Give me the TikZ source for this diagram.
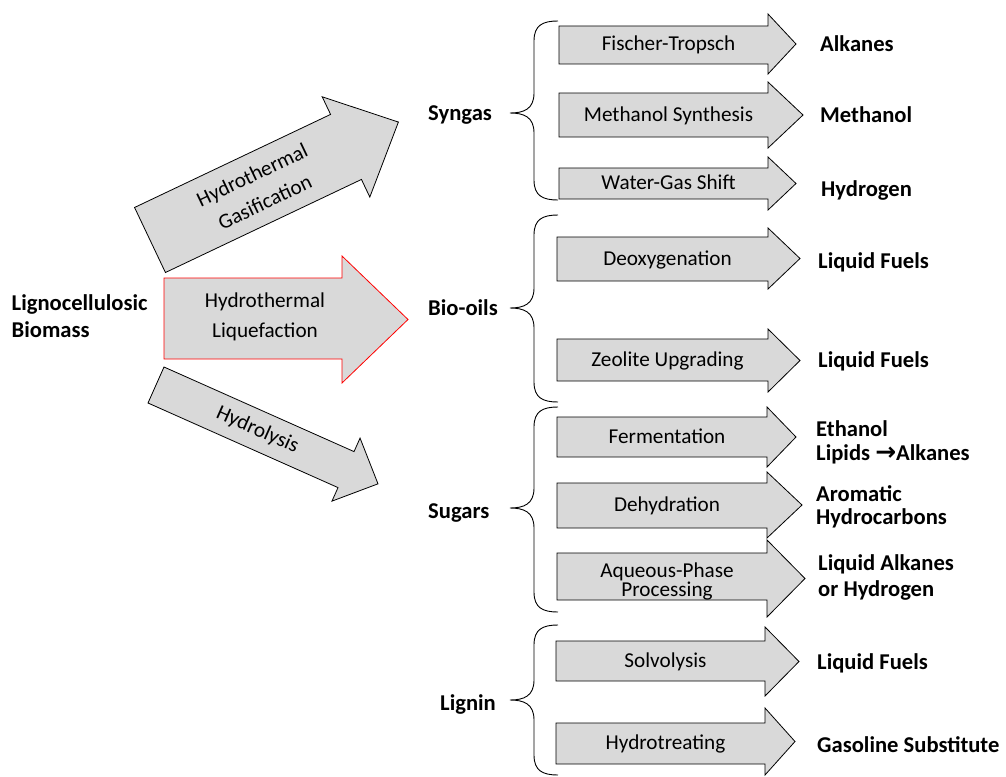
\documentclass[tikz,border=0pt]{standalone}
\usepackage{fontspec}
\setmainfont{Carlito}
\newfontfamily\arrowfont{DejaVu Sans}
\definecolor{arrowgray}{HTML}{D9D9D9}
\definecolor{htlred}{HTML}{FF0000}
\tikzset{
  blockarrow/.style={draw=black, fill=arrowgray, line width=0.8pt, line join=miter},
  redarrow/.style={blockarrow, draw=htlred},
  proctext/.style={inner sep=0pt, font=\fontsize{21.2}{25}\selectfont, align=center},
  prodlabel/.style={inner sep=0pt, font=\bfseries\fontsize{22.6}{25}\selectfont, align=left, anchor=base west},
  bracepath/.style={draw=black, line width=0.9pt},
}
% name, x0, x head, x tip, shaft top, shaft bottom, head top, head bottom
\newcommand\rarrow[8]{%
  \draw[blockarrow] (#2,#5) -- (#3,#5) -- (#3,#7) -- (#4,{(#7+#8)/2}) -- (#3,#8) -- (#3,#6) -- (#2,#6) -- cycle;
  \coordinate (#1) at ({(#2+#3)/2+5},{(#5+#6)/2});
}
% top, bottom, tip
\newcommand\cbrace[3]{%
  \draw[bracepath] (558,#1) .. controls (543,#1) and (534,{#1+4}) .. (534,{#1+20})
    -- (534,{#3-20}) .. controls (534,{#3-4}) and (524,#3) .. (510,#3)
    .. controls (524,#3) and (534,{#3+4}) .. (534,{#3+20})
    -- (534,{#2-20}) .. controls (534,{#2-4}) and (543,#2) .. (558,#2);
}
\begin{document}
\begin{tikzpicture}[x=1pt,y=-1pt]
\useasboundingbox (0,0) rectangle (1006,776);

% ---- left: source (base = last line's baseline)
\node[prodlabel, font=\bfseries\fontsize{22.6}{26.6}\selectfont] (biomass) at (11.5,337.3) {Lignocellulosic\\Biomass};

% ---- three main arrows
\begin{scope}[shift={(150,240)}, rotate=25.4]
  \draw[blockarrow] (0,-36) -- (217,-36) -- (217,-55.5) -- (275,0) -- (217,55.5) -- (217,36) -- (0,36) -- cycle;
  \node[proctext, transform shape, font=\fontsize{21.2}{30}\selectfont] (htg) at (120,0) {Hydrothermal\\Gasification};
\end{scope}
\draw[redarrow] (164,278) -- (342,278) -- (342,256) -- (408,319.5) -- (342,383) -- (342,359) -- (164,359) -- cycle;
\node[proctext, font=\fontsize{21.2}{30}\selectfont] (htl) at (265,317) {Hydrothermal\\Liquefaction};
\begin{scope}[shift={(156,385)}, rotate=-24]
  \draw[blockarrow] (0,-19.7) -- (208,-19.7) -- (208,-34.5) -- (243,0) -- (208,34.5) -- (208,19.7) -- (0,19.7) -- cycle;
  \node[proctext, transform shape] (hyd) at (111,0) {Hydrolysis};
\end{scope}

% ---- intermediates
\node[prodlabel] (syngas) at (428,120.5) {Syngas};
\node[prodlabel] (biooils) at (428,315) {Bio-oils};
\node[prodlabel] (sugars) at (428,518) {Sugars};
\node[prodlabel] (lignin) at (440,710) {Lignin};

% ---- braces
\cbrace{21}{200}{113}
\cbrace{215}{402}{308}
\cbrace{407}{612}{508}
\cbrace{625}{775}{700}

% ---- process arrows
\rarrow{ftA}{559}{768}{796}{26}{64}{14}{74}
\node[proctext, anchor=base] (ft) at ([yshift=-6pt]ftA) {Fischer-Tropsch};
\rarrow{msA}{559}{768}{803}{93}{137}{82}{148}
\node[proctext, anchor=base] (ms) at ([yshift=-6pt]msA) {Methanol Synthesis};
\rarrow{wgA}{559}{768}{796}{168}{199}{157}{210}
\node[proctext, anchor=base] (wg) at ([yshift=-6pt]wgA) {Water-Gas Shift};
\rarrow{deA}{557}{768}{800}{237}{281}{228}{289}
\node[proctext, anchor=base] (de) at ([yshift=-6pt]deA) {Deoxygenation};
\rarrow{zeA}{557}{768}{800}{339}{381}{329}{392}
\node[proctext, anchor=base] (ze) at ([yshift=-6pt]zeA) {Zeolite Upgrading};
\rarrow{feA}{557}{767}{796}{417}{457}{407}{467}
\node[proctext, anchor=base] (fe) at ([yshift=-6pt]feA) {Fermentation};
\rarrow{dhA}{557}{767}{802}{483}{528}{472}{538}
\node[proctext, anchor=base] (dh) at ([yshift=-6pt]dhA) {Dehydration};
\rarrow{apA}{557}{767}{805}{553}{600}{540}{617}
\node[proctext, anchor=base, font=\fontsize{21.2}{19.4}\selectfont] (ap) at ([yshift=-20.2pt]apA) {Aqueous-Phase\\Processing};
\rarrow{svA}{556}{765}{799}{641}{681}{627}{696}
\node[proctext, anchor=base] (sv) at ([yshift=-6pt]svA) {Solvolysis};
\rarrow{htA}{556}{765}{795}{723}{764}{708}{775}
\node[proctext, anchor=base] (ht) at ([yshift=-6pt]htA) {Hydrotreating};

% ---- products
\node[prodlabel] (alk) at (820,51.7) {Alkanes};
\node[prodlabel] (meoh) at (820,122.7) {Methanol};
\node[prodlabel] (h2) at (821,196) {Hydrogen};
\node[prodlabel] (lf1) at (818,268) {Liquid Fuels};
\node[prodlabel] (lf2) at (818,367) {Liquid Fuels};
\node[prodlabel, font=\bfseries\fontsize{22.6}{24.7}\selectfont] (eth) at (816,460.7) {Ethanol\\Lipids {\arrowfont\bfseries\fontsize{25}{20}\selectfont →}Alkanes};
\node[prodlabel, font=\bfseries\fontsize{22.6}{22.5}\selectfont] (aro) at (816,524) {Aromatic\\Hydrocarbons};
\node[prodlabel, font=\bfseries\fontsize{22.6}{26}\selectfont] (lalk) at (818,596.7) {Liquid Alkanes\\or Hydrogen};
\node[prodlabel] (lf3) at (817,669.3) {Liquid Fuels};
\node[prodlabel] (gas) at (817,752.7) {Gasoline Substitute};
\end{tikzpicture}
\end{document}
